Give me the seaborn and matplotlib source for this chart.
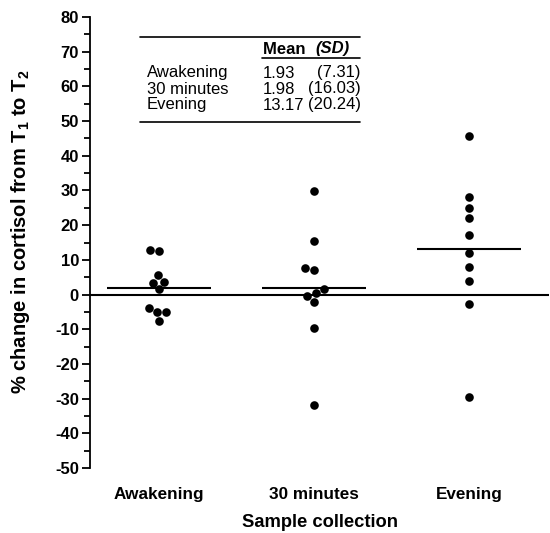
import numpy as np
import pandas as pd
import matplotlib
matplotlib.use("Agg")
import matplotlib.pyplot as plt
from matplotlib.lines import Line2D
import seaborn as sns

categories = ["Awakening", "30 minutes", "Evening"]
awakening = [12.5, 12.8, 5.6, 3.6, 3.3, 1.5, -3.8, -5.1, -5.1, -7.5]
thirty_min = [29.9, 15.4, 7.7, 7.1, 1.5, 0.3, -0.4, -2.1, -9.6, -31.8]
evening = [45.7, 28.2, 25.0, 22.0, 17.1, 12.0, 7.9, 4.0, -2.7, -29.6]
means = [1.93, 1.98, 13.17]
sds = [7.31, 16.03, 20.24]
yticks = list(range(-50, 81, 10))

sns.set_theme(style="ticks", rc={
    "text.color": "black", "axes.labelcolor": "black", "axes.edgecolor": "black",
    "xtick.color": "black", "ytick.color": "black",
})
plt.rcParams["font.family"] = ["Liberation Sans", "DejaVu Sans"]
plt.rcParams["mathtext.fontset"] = "custom"
plt.rcParams["mathtext.rm"] = "Liberation Sans"
plt.rcParams["mathtext.bf"] = "Liberation Sans:bold"
plt.rcParams["axes.unicode_minus"] = False

df = pd.DataFrame({
    "group": np.repeat(categories, [len(awakening), len(thirty_min), len(evening)]),
    "value": awakening + thirty_min + evening,
})

W, H = 550, 533
fig = plt.figure(figsize=(W / 100, H / 100), dpi=100)
ax = fig.add_axes([90 / W, 1 - 468 / H, (549 - 90) / W, (468 - 17) / H])

sns.swarmplot(data=df, x="group", y="value", order=categories, color="black",
              size=6.2, ax=ax, zorder=3)

ax.axhline(0, color="black", lw=1.5, zorder=2)
for i, m in enumerate(means):
    ax.hlines(m, i - 0.335, i + 0.335, color="black", lw=1.5, zorder=2)

ax.set_xlim(-0.445, 2.516)
ax.set_ylim(-50, 80)
ax.set_yticks(yticks)
ax.set_yticks(np.arange(-45, 80, 10), minor=True)
for sp in ["top", "right", "bottom"]:
    ax.spines[sp].set_visible(False)
ax.spines["left"].set_linewidth(1.3)
ax.spines["left"].set_color("black")
ax.tick_params(axis="y", which="major", length=6, width=1.3, labelsize=12, pad=2,
               color="black", labelcolor="black")
ax.tick_params(axis="y", which="minor", length=4, width=1.3, color="black")
ax.tick_params(axis="x", length=0, labelsize=12.3, pad=14, labelcolor="black")
for lab in ax.get_yticklabels() + ax.get_xticklabels():
    lab.set_fontweight("bold")

ax.set_xlabel("Sample collection", fontsize=13.2, fontweight="bold", labelpad=8,
              color="black")
ax.set_ylabel(r"% change in cortisol from T$_\mathbf{1}$ to T$_\mathbf{2}$",
              fontsize=14.5, fontweight="bold", color="black")
ax.yaxis.set_label_coords(-0.126, 0.523)

# summary table
def fx(px):
    return px / W

def fy(py):
    return 1 - py / H

fig.add_artist(Line2D([fx(140), fx(360)], [fy(37), fy(37)], color="black", lw=1.2))
fig.add_artist(Line2D([fx(262), fx(360)], [fy(58), fy(58)], color="black", lw=1.2))
fig.add_artist(Line2D([fx(140), fx(360)], [fy(122), fy(122)], color="black", lw=1.2))

fig.text(fx(263), fy(49), "Mean ", fontsize=12, fontweight="bold", va="center",
         ha="left", color="black")
fig.text(fx(350), fy(49), "(SD)", fontsize=12, fontweight="bold", style="italic",
         va="center", ha="right", color="black")
row_y = [73, 89, 105]
for name, m, s, yy in zip(categories, means, sds, row_y):
    fig.text(fx(147), fy(yy), name, fontsize=12, va="center", ha="left", color="black")
    fig.text(fx(263), fy(yy), f"{m:.2f}", fontsize=12, va="center", ha="left", color="black")
    fig.text(fx(361), fy(yy), f"({s:.2f})", fontsize=12, va="center", ha="right", color="black")

fig.savefig("out.png", dpi=100)
